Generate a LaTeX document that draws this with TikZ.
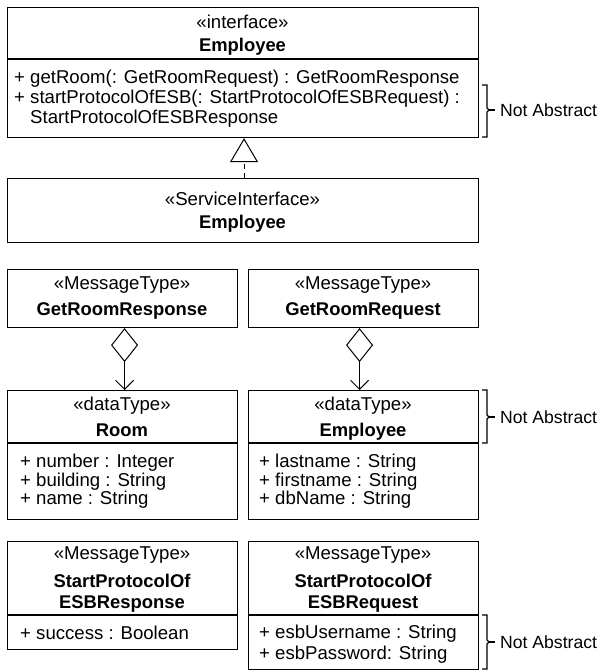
\documentclass[tikz,border=0pt]{standalone}
\usepackage{fontspec}
\setmainfont{Liberation Sans}
\usetikzlibrary{arrows.meta}
\begin{document}
\begin{tikzpicture}[x=1pt,y=-1pt,
  box/.style={draw, line width=1.1pt, inner sep=0pt, anchor=north west},
  divider/.style={line width=1.7pt},
  txt/.style={inner sep=0pt, font=\fontsize{18.6}{20}\selectfont, anchor=base},
  ltxt/.style={txt, anchor=base west},
  btxt/.style={txt, font=\fontsize{18.4}{20}\selectfont\bfseries},
  note/.style={inner sep=0pt, font=\fontsize{17.6}{20}\selectfont, anchor=base west},
  brace/.style={line width=1.1pt},
  realize/.style={line width=1pt, dash pattern=on 5pt off 4pt, -{Triangle[open, length=24pt, width=28pt, line width=1pt]}},
  aggr/.style={line width=1pt, {Diamond[open, length=34pt, width=27pt, line width=1pt]}-{Straight Barb[length=9pt, width=18pt, line width=1pt]}}
]
\useasboundingbox (0,0) rectangle (604,671);

% ---- interface Employee
\node[box, minimum width=471pt, minimum height=130pt] (iface) at (7,7) {};
\draw[divider] (iface.west |- 0,59) -- (iface.east |- 0,59);
\node[txt] (ifst) at (242.5,28.6) {«interface»};
\node[btxt] (ifname) at (242.5,51.6) {Employee};
\node[ltxt] (op1) at (14,83.6) {+ getRoom(: GetRoomRequest) : GetRoomResponse};
\node[ltxt] (op2) at (14,103.6) {+ startProtocolOfESB(: StartProtocolOfESBRequest) :};
\node[ltxt] (op3) at (14,123.6) {\phantom{+ }StartProtocolOfESBResponse};

% ---- ServiceInterface Employee
\node[box, minimum width=471pt, minimum height=64pt] (svc) at (7,178) {};
\node[txt] (svcst) at (242.5,205.6) {«ServiceInterface»};
\node[btxt] (svcname) at (242.5,228.6) {Employee};

\draw[realize] ([xshift=1pt]svc.north) -- ([xshift=1pt]iface.south);

% ---- GetRoomResponse / GetRoomRequest
\node[box, minimum width=230pt, minimum height=58pt] (resp) at (7,269) {};
\node[txt] (respst) at (122,289.6) {«MessageType»};
\node[btxt] (respname) at (122,315.6) {GetRoomResponse};

\node[box, minimum width=230pt, minimum height=58pt] (req) at (248,269) {};
\node[txt] (reqst) at (363,289.6) {«MessageType»};
\node[btxt] (reqname) at (363,315.6) {GetRoomRequest};

% ---- Room / Employee dataTypes
\node[box, minimum width=230pt, minimum height=129pt] (room) at (7,390) {};
\draw[divider] (room.west |- 0,443) -- (room.east |- 0,443);
\node[txt] (roomst) at (122,410.6) {«dataType»};
\node[btxt] (roomname) at (122,436.6) {Room};
\node[ltxt] (ra1) at (20,467.6) {+ number : Integer};
\node[ltxt] (ra2) at (20,486.1) {+ building : String};
\node[ltxt] (ra3) at (20,504.6) {+ name : String};

\node[box, minimum width=230pt, minimum height=129pt] (emp) at (248,390) {};
\draw[divider] (emp.west |- 0,443) -- (emp.east |- 0,443);
\node[txt] (empst) at (363,410.6) {«dataType»};
\node[btxt] (empname) at (363,436.6) {Employee};
\node[ltxt] (ea1) at (259,467.6) {+ lastname : String};
\node[ltxt] (ea2) at (259,486.1) {+ firstname : String};
\node[ltxt] (ea3) at (259,504.6) {+ dbName : String};

\draw[aggr] ([xshift=2pt]resp.south) -- ([xshift=2pt]room.north);
\draw[aggr] ([xshift=-4pt]req.south) -- ([xshift=-4pt]emp.north);

% ---- StartProtocolOfESB Response / Request
\node[box, minimum width=230pt, minimum height=108pt] (sresp) at (7,541) {};
\draw[divider] (sresp.west |- 0,615) -- (sresp.east |- 0,615);
\node[txt] (srespst) at (122,559.6) {«MessageType»};
\node[btxt] (srespn1) at (122,587.6) {StartProtocolOf};
\node[btxt] (srespn2) at (122,608.6) {ESBResponse};
\node[ltxt] (sra1) at (20,639.6) {+ success : Boolean};

\node[box, minimum width=230pt, minimum height=128pt] (sreq) at (248,541) {};
\draw[divider] (sreq.west |- 0,615) -- (sreq.east |- 0,615);
\node[txt] (sreqst) at (363,559.6) {«MessageType»};
\node[btxt] (sreqn1) at (363,587.6) {StartProtocolOf};
\node[btxt] (sreqn2) at (363,608.6) {ESBRequest};
\node[ltxt] (sqa1) at (259,638.6) {+ esbUsername : String};
\node[ltxt] (sqa2) at (259,659.6) {+ esbPassword: String};

% ---- braces and notes
\draw[brace] (482,85) -- (487,85) -- (487,108) -- (489,110) -- (487,112) -- (487,137) -- (482,137);
\draw[brace] (489,110) -- (495,110);
\node[note] (na1) at (500,116.4) {Not Abstract};

\draw[brace] (482,390) -- (487,390) -- (487,415) -- (489,417) -- (487,419) -- (487,443) -- (482,443);
\draw[brace] (489,417) -- (495,417);
\node[note] (na2) at (500,423.4) {Not Abstract};

\draw[brace] (482,615) -- (487,615) -- (487,640) -- (489,642) -- (487,644) -- (487,669) -- (482,669);
\draw[brace] (489,642) -- (495,642);
\node[note] (na3) at (500,648.4) {Not Abstract};
\end{tikzpicture}
\end{document}
